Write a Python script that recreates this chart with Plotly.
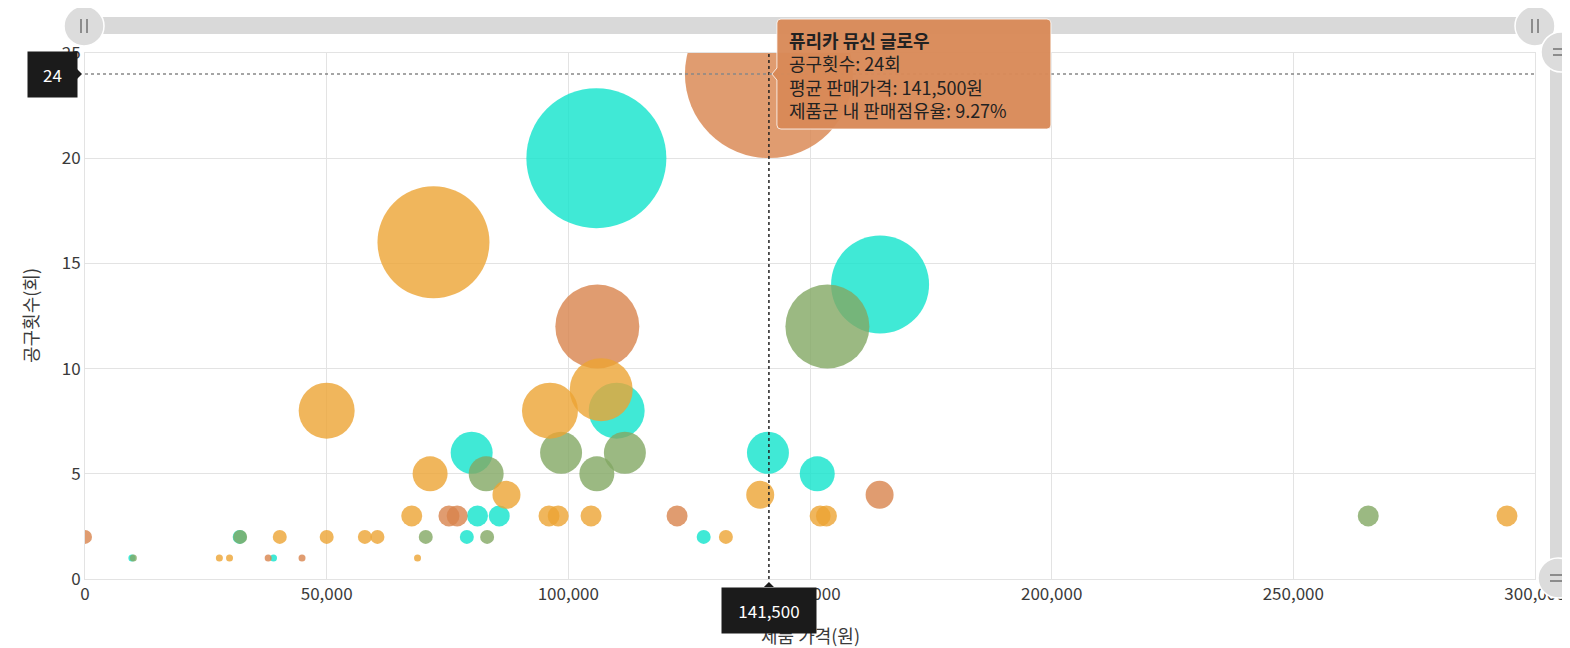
import plotly.graph_objects as go

# ---------------- data ----------------
# 제품군별 (평균 판매가격, 공구횟수)
turq_price = [105800, 164500, 110000, 80000, 141300, 151500, 81200, 85700, 79000, 128000, 9700, 39000, 32000]
turq_count = [20, 14, 8, 6, 6, 5, 3, 3, 2, 2, 1, 1, 2]

olive_price = [153600, 98500, 111700, 105900, 83000, 70500, 83200, 32100, 10000, 265500]
olive_count = [12, 6, 6, 5, 5, 2, 2, 2, 1, 3]

terra_price = [141500, 106000, 164400, 122500, 75300, 77000, 0, 37900, 44900]
terra_count = [24, 12, 4, 3, 3, 3, 2, 1, 1]

orange_price = [72100, 106800, 96200, 50000, 71400, 87200, 139700,
                67600, 96000, 97900, 104700, 152100, 153400, 294200,
                40300, 50000, 57900, 60500, 132600,
                27800, 29900, 68800]
orange_count = [16, 9, 8, 8, 5, 4, 4,
                3, 3, 3, 3, 3, 3, 3,
                2, 2, 2, 2, 2,
                1, 1, 1]

series_names = ["제품군 A", "제품군 B", "제품군 C", "제품군 D"]
series_colors = ["rgb(16,228,204)", "rgb(130,167,99)", "rgb(216,131,76)", "rgb(236,164,51)"]

# hovered product (tooltip)
hover_name = "퓨리카 뮤신 글로우"
hover_price = 141500
hover_count = 24
hover_share = 9.27

x_range = [0, 300000]
y_range = [0, 25]
x_ticks = [0, 50000, 100000, 150000, 200000, 250000, 300000]
y_ticks = [0, 5, 10, 15, 20, 25]
x_title = "제품 가격(원)"
y_title = "공구횟수(회)"

FONT = "Noto Sans CJK KR"
SIZE_PER_COUNT = 7

fig = go.Figure()
for name, color, xs, ys in zip(series_names, series_colors,
                               [turq_price, olive_price, terra_price, orange_price],
                               [turq_count, olive_count, terra_count, orange_count]):
    fig.add_trace(go.Scatter(
        x=xs, y=ys, mode="markers", name=name,
        marker=dict(size=[c * SIZE_PER_COUNT for c in ys], color=color,
                    opacity=0.8, line=dict(width=0)),
        hovertemplate="공구횟수: %{y}회<br>평균 판매가격: %{x:,}원<extra></extra>",
    ))

# ---------------- layout geometry (screen pixels; page body has an 8px margin) ----------------
OFF = 8
W, H = 1570 - OFF, 648 - OFF
PL, PT, PR, PB = 85, 53, 1535, 579          # plot area in screen pixels
L, T = PL - OFF, PT - OFF
R = W - (PR - OFF)
B = H - (PB - OFF)
PW, PH = PR - PL, PB - PT

def px(xs):  # screen pixel x -> paper
    return (xs - PL) / PW

def py(ys):  # screen pixel y -> paper
    return (PB - ys) / PH

# hovered point as paper fraction (through the axis ranges)
hx = (hover_price - x_range[0]) / (x_range[1] - x_range[0])
hy = (hover_count - y_range[0]) / (y_range[1] - y_range[0])

grid = "#e3e3e3"
txt = "#3a3a3a"
fig.update_layout(
    width=W, height=H,
    margin=dict(l=L, r=R, t=T, b=B, autoexpand=False),
    plot_bgcolor="white", paper_bgcolor="white",
    showlegend=False,
    font=dict(family=FONT, color=txt, size=17),
    xaxis=dict(range=x_range, tickvals=x_ticks, tickformat=",", automargin=False,
               showgrid=True, gridcolor=grid, gridwidth=1,
               showline=True, linecolor=grid, mirror=True, zeroline=False,
               ticks="", tickfont=dict(size=17, color=txt)),
    yaxis=dict(range=y_range, tickvals=y_ticks, automargin=False,
               showgrid=True, gridcolor=grid, gridwidth=1,
               showline=True, linecolor=grid, mirror=True, zeroline=False,
               ticks="", tickfont=dict(size=17, color=txt)),
)

shapes = []
# crosshair
shapes.append(dict(type="line", xref="x", yref="y", x0=hover_price, x1=hover_price, y0=y_range[0], y1=y_range[1],
                   line=dict(color="#222", width=1.5, dash="dot"), layer="above"))
shapes.append(dict(type="line", xref="x", yref="y", x0=x_range[0], x1=x_range[1], y0=hover_count, y1=hover_count,
                   line=dict(color="#888", width=1.5, dash="dot"), layer="above"))

slider_col = "#d9d9d9"
handle_col = "#dcdcdc"
icon_col = "#8c8c8c"
# horizontal slider bar
shapes.append(dict(type="rect", xref="paper", yref="paper", x0=0, x1=1, y0=py(34), y1=py(17),
                   fillcolor=slider_col, line=dict(width=0), layer="above"))
# vertical slider bar
shapes.append(dict(type="rect", xref="paper", yref="paper", x0=px(1550), x1=px(1580), y0=py(PB), y1=py(PT),
                   fillcolor=slider_col, line=dict(width=0), layer="above"))
r = 20
for cx, cy, orient in [(84, 26, "v"), (1535, 26, "v"), (1561, 52, "h"), (1558, 578, "h")]:
    shapes.append(dict(type="circle", xref="paper", yref="paper",
                       x0=px(cx - r), x1=px(cx + r), y0=py(cy + r), y1=py(cy - r),
                       fillcolor=handle_col, line=dict(color="white", width=1.5), layer="above"))
    if orient == "v":
        for dx in (-3, 3):
            shapes.append(dict(type="line", xref="paper", yref="paper",
                               x0=px(cx + dx), x1=px(cx + dx), y0=py(cy + 7), y1=py(cy - 7),
                               line=dict(color=icon_col, width=2), layer="above"))
    else:
        for dy in (-3, 3):
            shapes.append(dict(type="line", xref="paper", yref="paper",
                               x0=px(cx - 8), x1=px(cx + 8), y0=py(cy + dy), y1=py(cy + dy),
                               line=dict(color=icon_col, width=2), layer="above"))

# tooltip box (rounded, with small pointer), anchored at the hovered point (paper refs -> not clipped)
tip_path = ("M 12,-55 L 278,-55 Q 282,-55 282,-51 L 282,51 Q 282,55 278,55 L 12,55 "
            "Q 8,55 8,51 L 8,6 L 3,0 L 8,-6 L 8,-51 Q 8,-55 12,-55 Z")
shapes.append(dict(type="path", xref="paper", yref="paper", xsizemode="pixel", ysizemode="pixel",
                   xanchor=hx, yanchor=hy, path=tip_path,
                   fillcolor="rgba(216,137,87,0.96)", line=dict(color="rgba(255,255,255,0.8)", width=1),
                   layer="above"))
# pointer-label arrows
shapes.append(dict(type="path", xref="paper", yref="paper", xsizemode="pixel", ysizemode="pixel",
                   xanchor=0, yanchor=hy, path="M -8,-5 L -3,0 L -8,5 Z",
                   fillcolor="#1b1b1b", line=dict(width=0), layer="above"))
shapes.append(dict(type="path", xref="paper", yref="paper", xsizemode="pixel", ysizemode="pixel",
                   xanchor=hx, yanchor=0, path="M -5,-8 L 0,-3 L 5,-8 Z",
                   fillcolor="#1b1b1b", line=dict(width=0), layer="above"))

fig.update_layout(shapes=shapes)

annotations = []
# axis titles
annotations.append(dict(xref="paper", yref="paper", x=0.5, y=0, xanchor="center", yanchor="middle",
                        yshift=-56, text=x_title, showarrow=False, font=dict(size=18, color=txt)))
annotations.append(dict(xref="paper", yref="paper", x=0, y=0.5, xanchor="center", yanchor="middle",
                        xshift=-55, textangle=-90, text=y_title, showarrow=False,
                        font=dict(size=18, color=txt)))
# axis-pointer labels
annotations.append(dict(xref="paper", yref="y", x=0, y=hover_count, xanchor="right", yanchor="middle",
                        xshift=-7, text=f"{hover_count}", showarrow=False,
                        bgcolor="#1b1b1b", borderpad=10, width=29, height=25,
                        font=dict(color="white", size=17, family=FONT)))
annotations.append(dict(xref="x", yref="paper", x=hover_price, y=0, xanchor="center", yanchor="top",
                        yshift=-8, text=f"{hover_price:,}", showarrow=False,
                        bgcolor="#1b1b1b", borderpad=10, width=74, height=25,
                        font=dict(color="white", size=17, family=FONT)))
# tooltip text
tip_text = (f"<b>{hover_name}</b><br>공구횟수: {hover_count}회<br>"
            f"평균 판매가격: {hover_price:,}원<br>제품군 내 판매점유율: {hover_share:.2f}%")
annotations.append(dict(xref="x", yref="y", x=hover_price, y=hover_count, xanchor="left",
                        yanchor="middle", xshift=19, yshift=-1, text=tip_text,
                        showarrow=False, align="left", borderpad=0,
                        font=dict(color="#222", size=18, family=FONT)))
fig.update_layout(annotations=annotations)

fig.write_html("out.html")
